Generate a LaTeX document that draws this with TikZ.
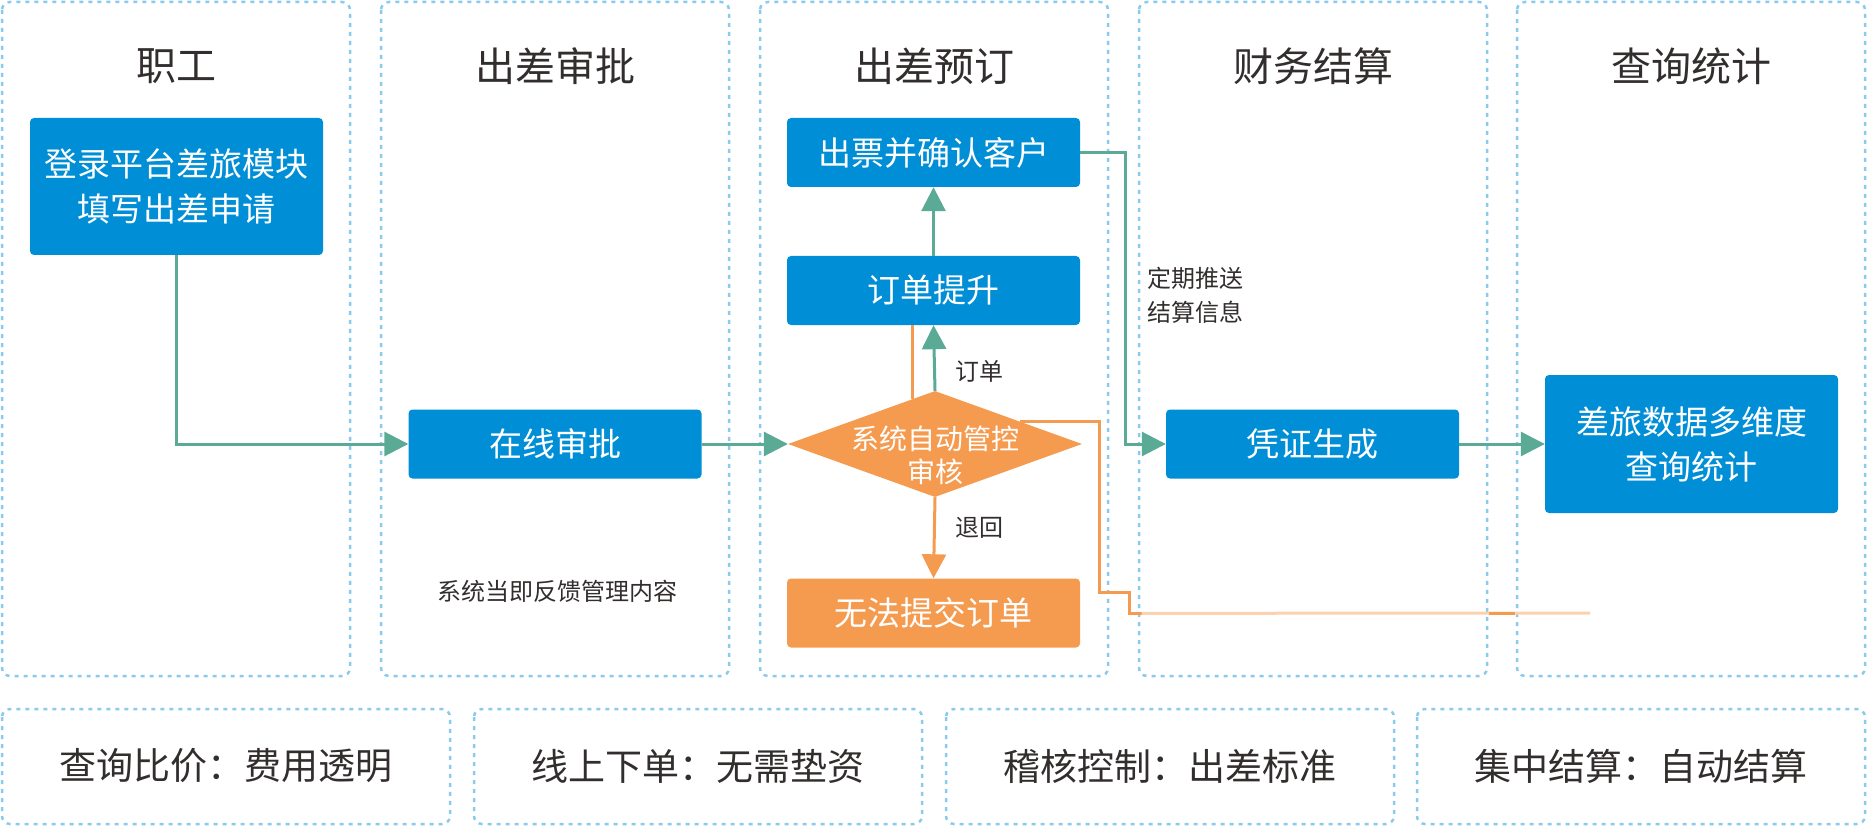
\documentclass[tikz,border=0pt]{standalone}
\usepackage{fontspec}
\newfontfamily\cjk{Noto Sans CJK SC}
\usepackage{tikz}
\usetikzlibrary{arrows.meta,shapes.geometric}
\definecolor{laneblue}{RGB}{140,202,236}
\definecolor{boxblue}{RGB}{0,142,214}
\definecolor{flowgreen}{RGB}{91,170,150}
\definecolor{checkorange}{RGB}{245,155,80}
\definecolor{textgray}{RGB}{51,46,46}

\begin{document}
\begin{tikzpicture}[x=1pt, y=-1pt,
  lane/.style={draw=laneblue, line width=2.5pt, dash pattern=on 4pt off 5pt, rounded corners=8pt},
  box/.style={fill=boxblue, text=white, rounded corners=4pt, minimum width=293pt, minimum height=69pt, inner sep=0pt, align=center, font=\cjk\fontsize{33}{45}\selectfont},
  title/.style={text=textgray, font=\cjk\fontsize{40}{48}\selectfont},
  note/.style={text=textgray, align=left, font=\cjk\fontsize{24}{34}\selectfont},
  flow/.style={draw=flowgreen, line width=3pt, -{Triangle[length=24pt,width=24pt]}},
  back/.style={draw=checkorange, line width=3pt}]
\useasboundingbox (0,0) rectangle (1870,826);
%%%%% Lanes %%%%%
\foreach \x/\t [count=\i] in {2/职工, 381/出差审批, 760/出差预订, 1139/财务结算, 1517/查询统计}{
\draw[lane] (\x,2) rectangle ++(348,674);
\node[title] (lane\i) at (\x+174,66) {\t};
}
\foreach \x/\t [count=\i] in {2/查询比价：费用透明, 474/线上下单：无需垫资, 946/稽核控制：出差标准, 1417/集中结算：自动结算}{
\draw[lane] (\x,709) rectangle ++(448,115);
\node[title, font=\cjk\fontsize{37}{44}\selectfont] (gain\i) at (\x+224,766) {\t};
}
%%%%% Boxes %%%%%
\node[box, minimum height=137pt] (apply) at (176.5,186.5) {登录平台差旅模块\\填写出差申请};
\node[box] (approve) at (555,444) {在线审批};
\node[box] (ticket) at (933.5,152.5) {出票并确认客户};
\node[box] (upgrade) at (933.5,290.5) {订单提升};
\node[diamond, fill=checkorange, minimum width=294pt, minimum height=106pt, inner sep=0pt] (check) at (935,444) {};
\node[text=white, align=center, font=\cjk\fontsize{28}{33}\selectfont] (checktext) at (935,455) {系统自动管控\\审核};
\node[box, fill=checkorange] (reject) at (933.5,613) {无法提交订单};
\node[box] (voucher) at (1312.5,444) {凭证生成};
\node[box, minimum height=138pt] (query) at (1691.5,444) {差旅数据多维度\\查询统计};
%%%%% Labels %%%%%
\node[note] (lorder) at (979,371) {订单};
\node[note] (lback) at (979,528) {退回};
\node[note, anchor=west] (lpush) at (1144,295) {定期推送\\结算信息};
\node[note] (lfeed) at (557,591) {系统当即反馈管理内容};
%%%%% Arrows %%%%%
\draw[flow] (apply.south) |- (approve.west);
\draw[flow] (approve.east) -- (check.west);
\draw[flow] (check.north) -- (upgrade.south);
\draw[flow] (upgrade.north) -- (ticket.south);
\draw[flow] (ticket.east) -- ++(45,0) |- (voucher.west);
\draw[flow] (voucher.east) -- (query.west);
\draw[back, -{Triangle[length=24pt,width=24pt]}] (check.south) -- (reject.north);
\draw[back] (check.116) -- (check.116 |- upgrade.south);
\coordinate (backend) at (1590,613);
\draw[back] (check.15.5) -- ++(80,0) -- ++(0,171) -- ++(30,0) -- ++(0,21) -- ++(12,0) coordinate (backmid);
\draw[back, draw=checkorange!45] (backmid) -- (backend);
\draw[back] (1489,613) -- (1515,613);
\end{tikzpicture}
\end{document}
